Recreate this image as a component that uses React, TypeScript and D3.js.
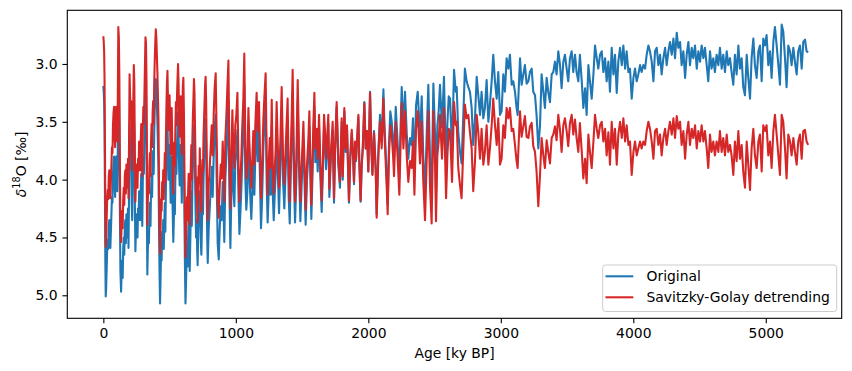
import { useEffect, useRef } from "react";
import * as d3 from "d3";

// Benthic d18O stack (ky BP, permil).
// "orig" = original record, "detr" = Savitzky-Golay detrended record.

// 0 - 800 ky
const ageLate = [
  0, 3, 6, 9, 12, 15, 18, 21, 25, 29,
  33, 37, 41, 45, 49, 53, 57, 61, 65, 69,
  73, 77, 81, 85, 89, 93, 97, 101, 105, 109,
  113, 117, 121, 125, 129, 134, 138, 142, 146, 150,
  154, 158, 162, 166, 170, 174, 178, 182, 186, 190,
  194, 198, 202, 206, 210, 214, 218, 222, 226, 230,
  234, 238, 242, 246, 250, 254, 258, 262, 266, 270,
  274, 278, 282, 286, 290, 294, 298, 302, 306, 310,
  314, 318, 322, 326, 329, 332, 336, 340, 344, 348,
  352, 356, 360, 364, 368, 372, 376, 380, 384, 388,
  392, 396, 400, 404, 408, 412, 416, 420, 424, 428,
  432, 436, 440, 444, 448, 452, 456, 460, 464, 468,
  472, 476, 480, 484, 488, 492, 496, 500, 504, 508,
  512, 516, 520, 524, 528, 532, 536, 540, 544, 548,
  552, 556, 560, 564, 568, 572, 576, 580, 584, 588,
  592, 596, 600, 604, 608, 612, 616, 620, 624, 628,
  632, 636, 640, 644, 648, 652, 656, 660, 664, 668,
  672, 676, 680, 684, 688, 692, 696, 700, 704, 708,
  712, 716, 720, 724, 728, 732, 736, 740, 744, 748,
  752, 756, 760, 764, 768, 772, 776, 780, 784, 788,
  792, 796,
];
const origLate = [
  3.19, 3.24, 3.32, 3.55, 4.1, 4.7, 5.01, 4.95, 4.78, 4.6,
  4.52, 4.6, 4.4, 4.35, 4.5, 4.59, 4.45, 4.3, 4.15, 4.2,
  3.95, 3.85, 3.8, 4.05, 4.15, 3.9, 3.8, 3.95, 4.1, 3.75,
  3.11, 3.2, 3.55, 4.3, 4.8, 4.97, 4.8, 4.7, 4.85, 4.6,
  4.5, 4.65, 4.4, 4.35, 4.55, 4.3, 4.4, 4.5, 4.25, 4.59,
  4.1, 3.52, 3.7, 3.9, 3.75, 4.2, 4.35, 4.0, 3.75, 3.44,
  3.6, 4.2, 4.62, 4.45, 4.3, 4.45, 4.5, 4.25, 4.35, 4.1,
  4.2, 4.35, 4.1, 3.95, 4.2, 4.4, 4.0, 3.8, 3.95, 3.7,
  3.45, 3.2, 3.25, 3.6, 4.3, 4.82, 4.6, 4.45, 4.55, 4.3,
  4.2, 4.4, 4.1, 3.95, 4.15, 3.85, 3.75, 3.95, 3.6, 3.4,
  3.25, 3.13, 3.2, 3.35, 3.5, 3.7, 3.9, 4.4, 4.8, 5.07,
  4.85, 4.6, 4.7, 4.45, 4.55, 4.35, 4.6, 4.4, 4.2, 4.45,
  4.1, 3.8, 3.6, 3.49, 3.75, 4.0, 3.85, 3.7, 3.95, 4.2,
  3.9, 3.8, 4.1, 4.3, 4.54, 4.35, 4.1, 4.3, 3.95, 3.75,
  3.95, 3.7, 3.55, 3.42, 3.6, 3.9, 4.05, 3.8, 3.7, 3.95,
  4.2, 3.85, 3.6, 3.52, 3.8, 4.3, 4.75, 5.07, 4.9, 4.7,
  4.55, 4.75, 4.5, 4.35, 4.6, 4.79, 4.55, 4.3, 4.1, 4.4,
  4.05, 3.85, 3.7, 3.53, 3.65, 3.95, 4.25, 4.5, 4.35, 4.6,
  4.74, 4.45, 4.25, 4.4, 4.1, 4.35, 4.55, 4.65, 4.4, 4.2,
  4.3, 4.0, 3.85, 3.7, 3.55, 3.48, 3.7, 4.1, 4.5, 4.72,
  4.55, 4.4,
];
const detrLate = [
  2.76, 2.81, 2.89, 3.12, 3.67, 4.27, 4.58, 4.52, 4.35, 4.17,
  4.09, 4.17, 3.97, 3.92, 4.07, 4.16, 4.02, 3.87, 3.72, 3.77,
  3.52, 3.42, 3.37, 3.62, 3.72, 3.47, 3.37, 3.52, 3.67, 3.32,
  2.68, 2.77, 3.12, 3.87, 4.37, 4.54, 4.37, 4.27, 4.42, 4.17,
  4.07, 4.22, 3.97, 3.92, 4.12, 3.87, 3.97, 4.07, 3.82, 4.16,
  3.67, 3.09, 3.27, 3.47, 3.32, 3.77, 3.92, 3.57, 3.32, 3.01,
  3.17, 3.77, 4.19, 4.02, 3.87, 4.02, 4.07, 3.82, 3.92, 3.67,
  3.77, 3.92, 3.67, 3.52, 3.77, 3.97, 3.57, 3.37, 3.52, 3.27,
  3.02, 2.77, 2.82, 3.17, 3.87, 4.39, 4.17, 4.02, 4.12, 3.87,
  3.77, 3.97, 3.67, 3.52, 3.72, 3.42, 3.32, 3.52, 3.17, 2.97,
  2.82, 2.7, 2.77, 2.92, 3.07, 3.27, 3.47, 3.97, 4.37, 4.64,
  4.42, 4.17, 4.27, 4.02, 4.12, 3.92, 4.17, 3.97, 3.77, 4.02,
  3.67, 3.37, 3.17, 3.06, 3.32, 3.57, 3.42, 3.27, 3.53, 3.78,
  3.48, 3.38, 3.68, 3.88, 4.12, 3.93, 3.68, 3.88, 3.53, 3.33,
  3.53, 3.28, 3.13, 3.0, 3.18, 3.48, 3.63, 3.38, 3.28, 3.53,
  3.78, 3.43, 3.2, 3.12, 3.4, 3.9, 4.35, 4.67, 4.5, 4.3,
  4.15, 4.35, 4.1, 3.95, 4.2, 4.39, 4.15, 3.9, 3.7, 4.0,
  3.65, 3.45, 3.3, 3.13, 3.25, 3.55, 3.85, 4.13, 3.98, 4.23,
  4.37, 4.08, 3.88, 4.03, 3.73, 3.98, 4.18, 4.28, 4.03, 3.83,
  3.93, 3.63, 3.48, 3.33, 3.18, 3.11, 3.33, 3.73, 4.13, 4.35,
  4.18, 4.03,
];

// 800 - 2660 ky
const ageEarly = [
  800, 810, 818, 825, 833, 840, 848, 856, 863, 871,
  878, 886, 893, 901, 908, 913, 921, 929, 936, 944,
  951, 959, 966, 974, 981, 989, 996, 1004, 1012, 1019,
  1027, 1034, 1042, 1049, 1057, 1064, 1072, 1079, 1087, 1095,
  1102, 1110, 1117, 1125, 1132, 1140, 1147, 1157, 1165, 1175,
  1183, 1190, 1198, 1208, 1215, 1225, 1233, 1240, 1248, 1256,
  1263, 1271, 1278, 1286, 1293, 1301, 1308, 1316, 1326, 1336,
  1346, 1356, 1366, 1376, 1384, 1391, 1399, 1407, 1414, 1422,
  1429, 1437, 1447, 1457, 1467, 1477, 1487, 1497, 1510, 1520,
  1527, 1537, 1547, 1555, 1563, 1570, 1578, 1585, 1593, 1600,
  1610, 1618, 1628, 1638, 1648, 1658, 1666, 1673, 1681, 1688,
  1698, 1706, 1716, 1731, 1741,
  1749, 1761, 1774, 1786, 1799, 1807, 1819, 1829, 1839, 1847,
  1854, 1864, 1875, 1885, 1892, 1900, 1907, 1917, 1925, 1932,
  1942, 1950, 1958, 1970, 1980, 1990, 2000, 2013, 2023, 2031,
  2043, 2056, 2063, 2076, 2088, 2101, 2114, 2121, 2129, 2139,
  2146, 2156, 2166, 2176, 2187, 2194, 2207, 2222, 2234, 2244,
  2252, 2265, 2277, 2290, 2302, 2315, 2327, 2337, 2348, 2360,
  2373, 2383, 2390, 2403, 2415, 2428, 2441, 2453, 2466, 2478,
  2491, 2504, 2511, 2521, 2531, 2541, 2556, 2571, 2587, 2597,
  2607, 2617, 2624, 2632, 2647, 2660,
];
const origEarly = [
  4.32, 4.09, 3.89, 4.15, 3.8, 3.57, 3.44, 4.03, 4.55, 4.69,
  4.43, 4.23, 4.35, 4.02, 4.29, 4.54, 3.99, 3.79, 3.56, 3.31,
  4.07, 4.59, 4.16, 3.74, 4.06, 4.23, 3.85, 3.76, 3.57, 4.07,
  4.47, 4.3, 4.07, 3.81, 3.58, 3.18, 4.0, 4.26, 4.11, 3.65,
  3.94, 4.17, 4.34, 4.08, 3.84, 4.13, 3.79, 3.51, 3.84, 3.58,
  4.04, 4.42, 4.18, 3.72, 3.54, 3.32, 4.03, 4.37, 4.11, 3.88,
  4.13, 3.54, 4.1, 4.35, 4.15, 3.95, 3.55, 3.89, 4.29, 3.88,
  3.41, 4.0, 4.25, 3.93, 3.7, 3.49, 4.15, 4.38, 3.98, 3.63,
  3.24, 3.91, 4.37, 4.0, 3.32, 3.9, 4.36, 4.04, 3.66, 4.09,
  4.39, 4.0, 3.8, 3.54, 3.99, 4.34, 3.99, 3.65, 3.37, 3.85,
  3.67, 3.93, 3.55, 3.97, 4.28, 3.89, 3.54, 3.67, 3.91, 3.76,
  3.52, 4.15, 3.86, 3.57, 4.2,
  3.77, 3.37, 3.88, 4.07, 3.5, 4.0, 3.41, 3.76, 3.56, 3.9,
  4.2, 3.82, 3.6, 3.81, 4.04, 3.69, 3.84, 3.63, 3.46, 3.85,
  4.19, 3.88, 3.74, 3.33, 3.73, 3.58, 3.93, 3.24, 3.72, 3.95,
  3.58, 3.91, 4.3, 3.75, 3.44, 3.67, 3.22, 3.5, 3.71, 3.98,
  4.21, 3.69, 3.41, 3.49, 3.66, 3.84, 3.37, 3.7, 3.99, 3.53,
  3.2, 3.56, 3.24, 3.6, 3.82, 3.64, 3.7, 3.47, 3.93, 3.36,
  3.24, 3.47, 3.65, 3.28, 3.8, 4.13, 3.59, 3.18, 3.84, 4.14,
  3.17, 3.62, 4.11, 3.54, 3.41, 3.18, 3.55, 3.11, 3.89, 3.51,
  3.28, 3.3, 3.51, 3.74, 3.05, 3.24,
];
const detrEarly = [
  3.96, 3.73, 3.53, 3.79, 3.44, 3.21, 3.08, 3.67, 4.19, 4.33,
  4.07, 3.87, 3.99, 3.67, 3.93, 4.19, 3.64, 3.44, 3.21, 2.97,
  3.73, 4.25, 3.82, 3.4, 3.73, 3.9, 3.53, 3.44, 3.25, 3.79,
  4.19, 4.02, 3.79, 3.53, 3.3, 2.91, 3.73, 3.99, 3.84, 3.38,
  3.67, 3.9, 4.07, 3.82, 3.58, 3.87, 3.53, 3.25, 3.58, 3.33,
  3.79, 4.16, 3.93, 3.47, 3.3, 3.08, 3.79, 4.13, 3.87, 3.64,
  3.9, 3.31, 3.87, 4.12, 3.93, 3.73, 3.33, 3.67, 4.07, 3.67,
  3.2, 3.79, 4.04, 3.73, 3.5, 3.3, 3.96, 4.19, 3.79, 3.44,
  3.05, 3.73, 4.19, 3.82, 3.14, 3.73, 4.19, 3.87, 3.5, 3.93,
  4.26, 3.87, 3.67, 3.41, 3.87, 4.22, 3.87, 3.53, 3.25, 3.73,
  3.56, 3.82, 3.44, 3.87, 4.18, 3.79, 3.44, 3.58, 3.82, 3.67,
  3.44, 4.08, 3.79, 3.5, 4.16,
  3.73, 3.33, 3.84, 4.02, 3.47, 3.97, 3.38, 3.73, 3.53, 3.87,
  4.18, 3.79, 3.57, 3.79, 4.02, 3.67, 3.82, 3.61, 3.44, 3.84,
  4.18, 3.87, 3.73, 3.34, 3.73, 3.58, 3.93, 3.25, 3.73, 3.96,
  3.6, 3.93, 4.33, 3.79, 3.5, 3.73, 3.3, 3.58, 3.79, 4.07,
  4.3, 3.79, 3.53, 3.61, 3.79, 3.97, 3.5, 3.83, 4.13, 3.67,
  3.34, 3.73, 3.41, 3.79, 4.02, 3.84, 3.9, 3.67, 4.13, 3.56,
  3.41, 3.67, 3.86, 3.5, 4.02, 4.35, 3.82, 3.41, 4.07, 4.38,
  3.41, 3.87, 4.36, 3.79, 3.67, 3.44, 3.82, 3.38, 4.16, 3.79,
  3.56, 3.58, 3.79, 4.02, 3.33, 3.53,
];

// 2660 - 5320 ky
const agePlio = [
  2667, 2679, 2692, 2704, 2717, 2729, 2742, 2755, 2767, 2780,
  2792, 2805, 2818, 2830, 2843, 2855, 2868, 2880, 2893, 2906,
  2918, 2931, 2943, 2956, 2969, 2981, 2994, 3006, 3019, 3031,
  3044, 3057, 3069, 3082, 3094, 3107, 3119, 3127, 3145, 3157,
  3170, 3182, 3195, 3208, 3220, 3233, 3245, 3258, 3270, 3283,
  3296, 3308, 3321, 3333, 3346, 3358, 3371, 3384, 3396, 3409,
  3421, 3434, 3447, 3459, 3472, 3484, 3497, 3509, 3522, 3535,
  3547, 3560, 3572, 3585, 3597,
  3611, 3623, 3636, 3648, 3661, 3673, 3686, 3699, 3711, 3724,
  3736, 3749, 3762, 3774, 3787, 3799, 3812, 3824, 3837, 3850,
  3862, 3875, 3887, 3900, 3913, 3925, 3938, 3950, 3963, 3975,
  3988, 4001, 4013, 4026, 4038, 4051, 4063, 4076, 4089, 4101,
  4114, 4126, 4139, 4152, 4164, 4177, 4189, 4202, 4214, 4227,
  4240, 4252, 4265, 4277, 4290, 4303, 4315, 4328, 4340, 4353,
  4365, 4378, 4391, 4403, 4416, 4428, 4441, 4453, 4466, 4479,
  4491, 4504, 4516, 4529, 4541,
  4554, 4566, 4579, 4591, 4604, 4616, 4629, 4642, 4654, 4667,
  4679, 4692, 4705, 4717, 4730, 4742, 4755, 4767, 4780, 4793,
  4805, 4818, 4830, 4843, 4856, 4868, 4881, 4893, 4906, 4918,
  4931, 4944, 4956, 4969, 4981, 4994, 5006, 5019, 5032, 5044,
  5057, 5069, 5082, 5095, 5107, 5120, 5132, 5145, 5157, 5170,
  5183, 5195, 5208, 5220, 5233, 5245, 5258, 5271, 5283, 5296,
  5308, 5320,
];
const origPlio = [
  3.2, 3.59, 3.76, 3.86, 3.44, 3.04, 3.15, 3.2, 3.24, 3.38,
  3.7, 3.47, 3.11, 3.27, 3.44, 3.24, 3.47, 3.38, 3.14, 3.5,
  3.35, 3.15, 2.92, 3.15, 3.3, 3.07, 3.44, 3.41, 3.09, 3.24,
  2.95, 3.04, 2.92, 3.18, 3.15, 3.24, 3.38, 3.44, 2.95, 3.18,
  3.09, 3.01, 3.17, 3.15, 3.07, 3.04, 3.24, 3.27, 3.44, 3.73,
  3.53, 3.09, 3.24, 3.38, 3.12, 3.24, 3.33, 3.09, 3.07, 2.98,
  3.09, 2.89, 3.01, 3.21, 2.98, 2.92, 3.04, 3.15, 2.95, 2.89,
  3.07, 2.92, 3.07, 3.15, 2.92,
  3.15, 3.38, 3.21, 3.44, 3.01, 3.15, 3.3, 3.09, 2.84, 2.95,
  3.04, 2.92, 2.89, 3.07, 2.95, 3.15, 2.98, 3.24, 2.86, 3.09,
  2.92, 3.25, 2.98, 2.86, 3.01, 2.84, 3.04, 2.89, 3.07, 3.04,
  3.3, 3.12, 3.04, 3.15, 3.09, 3.01, 3.07, 3.01, 3.04, 2.92,
  2.84, 2.89, 2.98, 3.15, 2.89, 2.86, 3.01, 2.92, 3.09, 2.95,
  2.86, 3.01, 2.89, 2.81, 2.92, 2.78, 2.95, 2.73, 2.86, 2.81,
  3.01, 2.89, 3.12, 2.92, 2.81, 3.01, 2.86, 2.95, 2.84, 3.04,
  2.89, 2.98, 2.84, 2.95, 2.86,
  3.01, 3.15, 2.89, 3.04, 2.95, 3.07, 2.92, 3.01, 2.86, 3.04,
  2.92, 3.07, 2.89, 3.01, 2.95, 3.07, 3.18, 2.92, 3.09, 2.84,
  3.04, 2.95, 3.2, 3.27, 2.92, 3.12, 3.3, 2.95, 2.78, 3.01,
  3.12, 2.89, 2.84, 3.15, 2.78, 2.84, 2.75, 3.01, 2.89, 3.12,
  2.81, 2.68, 2.84, 3.01, 3.18, 2.66, 2.72, 2.95, 3.2, 2.84,
  2.89, 3.01, 2.86, 2.98, 3.09, 2.89, 2.84, 3.04, 2.81, 2.79,
  2.89, 2.9,
];
const detrPlio = [
  3.5, 3.9, 4.05, 4.16, 3.73, 3.35, 3.47, 3.44, 3.59, 3.73,
  4.1, 3.84, 3.44, 3.59, 3.82, 3.56, 3.87, 3.76, 3.53, 3.87,
  3.73, 3.53, 3.3, 3.53, 3.7, 3.47, 3.87, 3.82, 3.53, 3.64,
  3.38, 3.47, 3.38, 3.58, 3.56, 3.7, 3.84, 3.9, 3.41, 3.63,
  3.54, 3.45, 3.63, 3.64, 3.54, 3.51, 3.71, 3.76, 3.93, 4.23,
  3.96, 3.64, 3.79, 3.9, 3.66, 3.76, 3.86, 3.64, 3.61, 3.54,
  3.66, 3.44, 3.57, 3.76, 3.53, 3.47, 3.58, 3.71, 3.51, 3.44,
  3.61, 3.48, 3.64, 3.76, 3.51,
  3.76, 3.99, 3.82, 4.03, 3.61, 3.76, 3.9, 3.67, 3.44, 3.56,
  3.64, 3.53, 3.5, 3.67, 3.56, 3.79, 3.59, 3.87, 3.5, 3.73,
  3.56, 3.87, 3.61, 3.5, 3.64, 3.47, 3.67, 3.53, 3.7, 3.67,
  3.96, 3.76, 3.67, 3.79, 3.73, 3.67, 3.73, 3.67, 3.7, 3.58,
  3.5, 3.56, 3.67, 3.82, 3.58, 3.56, 3.7, 3.61, 3.79, 3.64,
  3.56, 3.7, 3.58, 3.5, 3.61, 3.47, 3.64, 3.45, 3.56, 3.5,
  3.7, 3.58, 3.82, 3.61, 3.5, 3.7, 3.56, 3.64, 3.53, 3.73,
  3.58, 3.67, 3.53, 3.67, 3.58,
  3.73, 3.9, 3.61, 3.76, 3.67, 3.79, 3.67, 3.76, 3.58, 3.76,
  3.64, 3.79, 3.61, 3.76, 3.7, 3.79, 3.96, 3.67, 3.84, 3.58,
  3.82, 3.7, 3.93, 4.07, 3.67, 3.87, 4.09, 3.73, 3.56, 3.79,
  3.9, 3.67, 3.61, 3.93, 3.53, 3.58, 3.53, 3.79, 3.67, 3.9,
  3.58, 3.44, 3.61, 3.79, 3.96, 3.44, 3.5, 3.73, 3.99, 3.61,
  3.67, 3.79, 3.64, 3.76, 3.87, 3.67, 3.61, 3.82, 3.58, 3.57,
  3.67, 3.7,
];

const xTicks = [0, 1000, 2000, 3000, 4000, 5000];
const yTicks = [3.0, 3.5, 4.0, 4.5, 5.0];
const seriesNames = ["Original", "Savitzky-Golay detrending"];
const seriesColors = ["#1f77b4", "#d62728"];

const FONT = "DejaVu Sans, sans-serif";

function pairs(ages: number[], vals: number[]): [number, number][] {
  const n = Math.min(ages.length, vals.length);
  return d3.range(n).map((i) => [ages[i], vals[i]] as [number, number]);
}

export default function App() {
  const svgRef = useRef<SVGSVGElement>(null);

  useEffect(() => {
    const svg = d3.select(svgRef.current);
    svg.selectAll("*").remove();

    const left = 67.3;
    const right = 841.7;
    const top = 10.3;
    const bottom = 318.3;

    const x = d3.scaleLinear().domain([-272, 5573]).range([left, right]);
    const y = d3.scaleLinear().domain([2.536, 5.199]).range([top, bottom]);

    const original = [
      ...pairs(ageLate, origLate),
      ...pairs(ageEarly, origEarly),
      ...pairs(agePlio, origPlio),
    ];
    const detrended = [
      ...pairs(ageLate, detrLate),
      ...pairs(ageEarly, detrEarly),
      ...pairs(agePlio, detrPlio),
    ];

    svg
      .append("rect")
      .attr("width", 852)
      .attr("height", 371)
      .attr("fill", "#ffffff");

    const line = d3
      .line<[number, number]>()
      .x((d) => x(d[0]))
      .y((d) => y(d[1]));

    [original, detrended].forEach((data, i) => {
      svg
        .append("path")
        .datum(data)
        .attr("d", line)
        .attr("fill", "none")
        .attr("stroke", seriesColors[i])
        .attr("stroke-width", 2.08)
        .attr("stroke-linejoin", "round");
    });

    // Axes
    const xAxis = svg
      .append("g")
      .attr("transform", `translate(0,${bottom})`)
      .call(
        d3
          .axisBottom(x)
          .tickValues(xTicks)
          .tickFormat(d3.format("d"))
          .tickSize(4.9)
          .tickPadding(4.9)
      );
    const yAxis = svg
      .append("g")
      .attr("transform", `translate(${left},0)`)
      .call(
        d3
          .axisLeft(y)
          .tickValues(yTicks)
          .tickFormat(d3.format(".1f"))
          .tickSize(4.9)
          .tickPadding(4.9)
      );
    [xAxis, yAxis].forEach((g) => {
      g.select(".domain").remove();
      g.selectAll(".tick line").attr("stroke", "#000").attr("stroke-width", 1.1);
      g.selectAll("text")
        .attr("fill", "#000")
        .attr("font-family", FONT)
        .attr("font-size", 13.9);
    });

    // Frame
    svg
      .append("rect")
      .attr("x", left)
      .attr("y", top)
      .attr("width", right - left)
      .attr("height", bottom - top)
      .attr("fill", "none")
      .attr("stroke", "#000")
      .attr("stroke-width", 1.1);

    // Labels
    svg
      .append("text")
      .attr("x", (left + right) / 2)
      .attr("y", 358)
      .attr("text-anchor", "middle")
      .attr("font-family", FONT)
      .attr("font-size", 13.9)
      .text("Age [ky BP]");

    const yl = svg
      .append("text")
      .attr("transform", `translate(25.5,${(top + bottom) / 2}) rotate(-90)`)
      .attr("text-anchor", "middle")
      .attr("font-family", FONT)
      .attr("font-size", 13.9);
    yl.append("tspan").attr("font-style", "italic").text("δ");
    yl.append("tspan").attr("font-size", 9.7).attr("dy", -5.5).text("18");
    yl.append("tspan").attr("dy", 5.5).text("O [‰]");

    // Legend
    const lg = svg.append("g");
    lg.append("rect")
      .attr("x", 602.7)
      .attr("y", 265)
      .attr("width", 234)
      .attr("height", 46.5)
      .attr("rx", 2.8)
      .attr("fill", "#ffffff")
      .attr("fill-opacity", 0.8)
      .attr("stroke", "#cccccc")
      .attr("stroke-width", 1);
    seriesNames.forEach((name, i) => {
      const cy = 276.3 + i * 21;
      lg.append("line")
        .attr("x1", 605.5)
        .attr("x2", 633.3)
        .attr("y1", cy)
        .attr("y2", cy)
        .attr("stroke", seriesColors[i])
        .attr("stroke-width", 2.08);
      lg.append("text")
        .attr("x", 646.5)
        .attr("y", cy)
        .attr("dy", "0.35em")
        .attr("font-family", FONT)
        .attr("font-size", 13.9)
        .text(name);
    });
  }, []);

  return (
    <svg
      ref={svgRef}
      width={852}
      height={371}
      style={{ position: "absolute", left: 0, top: 0 }}
    />
  );
}
